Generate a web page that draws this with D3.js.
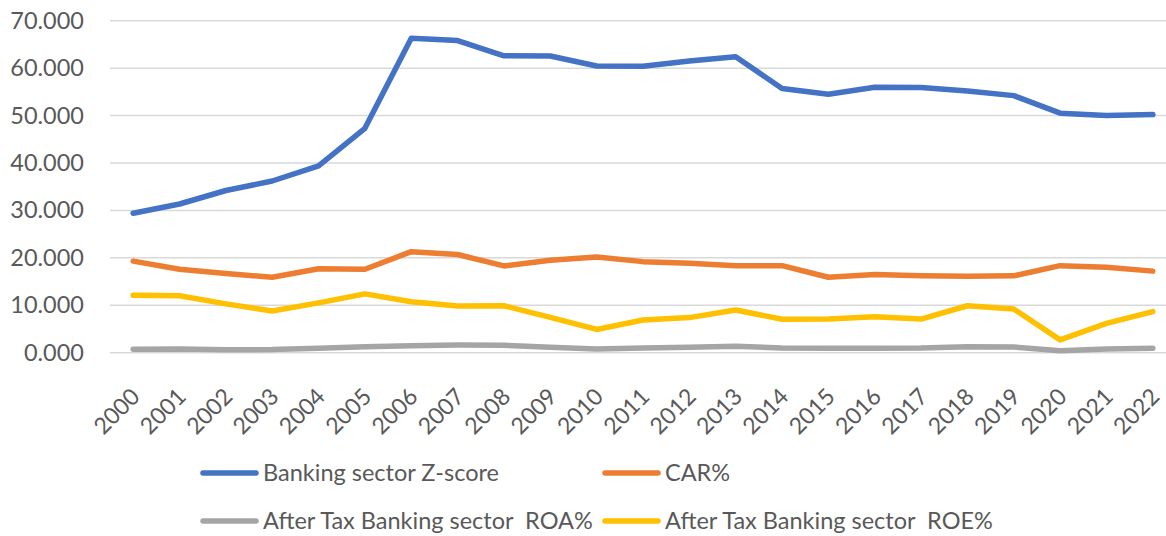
<!DOCTYPE html>
<html>
<head>
<meta charset="UTF-8">
<script src="https://d3js.org/d3.v7.min.js"></script>
<style>
  body { margin: 0; background: #fff; }
  text { font-family: Lato, "Open Sans", sans-serif; fill: #595959; }
</style>
</head>
<body>
<div id="chart"></div>
<script>
const years = ["2000","2001","2002","2003","2004","2005","2006","2007","2008","2009","2010",
  "2011","2012","2013","2014","2015","2016","2017","2018","2019","2020","2021","2022"];
const zScore = [29.4,31.35,34.2,36.2,39.4,47.3,66.3,65.8,62.6,62.55,60.45,60.4,61.5,62.4,
  55.7,54.5,55.95,55.9,55.2,54.2,50.5,50.0,50.2];
const car = [19.3,17.6,16.7,15.9,17.7,17.6,21.3,20.7,18.3,19.5,20.2,19.2,18.85,18.35,
  18.35,15.9,16.5,16.2,16.1,16.2,18.35,18.0,17.2];
const roa = [0.72,0.8,0.6,0.65,0.93,1.27,1.48,1.6,1.55,1.13,0.78,0.99,1.13,1.34,
  0.99,0.93,0.93,0.99,1.27,1.2,0.42,0.78,0.93];
const roe = [12.1,12.0,10.3,8.8,10.5,12.4,10.75,9.85,9.9,7.45,4.9,6.9,7.4,9.0,
  7.05,7.1,7.6,7.1,9.9,9.2,2.7,6.2,8.65];
const yTicks = [0,10,20,30,40,50,60,70];
const seriesNames = ["Banking sector Z-score","CAR%","After Tax Banking sector  ROA%","After Tax Banking sector  ROE%"];
const seriesColors = ["#4472C4","#ED7D31","#A5A5A5","#FFC000"];
const seriesValues = [zScore, car, roa, roe];

const width = 1166, height = 536;
const svg = d3.select("#chart").append("svg").attr("width", width).attr("height", height);

const x = d3.scaleBand().domain(years).range([110, 1176]);
const y = d3.scaleLinear().domain([0, 70]).range([352.7, 20.7]);

// gridlines
svg.append("g").selectAll("line").data(yTicks).join("line")
  .attr("x1", 110).attr("x2", width)
  .attr("y1", d => y(d)).attr("y2", d => y(d))
  .attr("stroke", "#D9D9D9").attr("stroke-width", 1.5);

// y labels
svg.append("g").selectAll("text").data(yTicks).join("text")
  .attr("x", 84).attr("y", d => y(d) + 8)
  .attr("text-anchor", "end").attr("font-size", 23.5)
  .text(d => d3.format(".3f")(d));

// x labels
svg.append("g").selectAll("text").data(years).join("text")
  .attr("transform", d => `translate(${x(d) + x.bandwidth() / 2 + 8},${398}) rotate(-45)`)
  .attr("text-anchor", "end").attr("font-size", 23)
  .text(d => d);

// lines (ROA drawn before ROE so order matches)
const line = d3.line().x((d, i) => x(years[i]) + x.bandwidth() / 2).y(d => y(d));
[2, 3, 1, 0].forEach(k => {
  svg.append("path").attr("d", line(seriesValues[k]))
    .attr("fill", "none").attr("stroke", seriesColors[k])
    .attr("stroke-width", 5.5).attr("stroke-linejoin", "round").attr("stroke-linecap", "round");
});

// legend
const legendPos = [[203, 473], [605, 473], [203, 521], [605, 521]];
seriesNames.forEach((name, k) => {
  const [lx, ly] = legendPos[k];
  svg.append("line").attr("x1", lx).attr("x2", lx + 53).attr("y1", ly).attr("y2", ly)
    .attr("stroke", seriesColors[k]).attr("stroke-width", 5.5).attr("stroke-linecap", "round");
  svg.append("text").attr("x", lx + 60).attr("y", ly + 8)
    .attr("font-size", 23.5).style("white-space", "pre").text(name);
});
</script>
</body>
</html>
